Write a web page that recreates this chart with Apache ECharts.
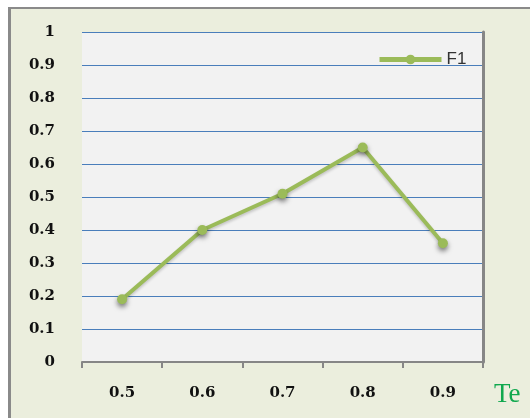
<!DOCTYPE html>
<html>
<head>
<meta charset="utf-8">
<script src="https://cdn.jsdelivr.net/npm/echarts@6/dist/echarts.min.js"></script>
<style>html,body{margin:0;padding:0;background:#fff;}#c{width:530px;height:418px;}</style>
</head>
<body>
<div id="c"></div>
<script>
const categories = ['0.5', '0.6', '0.7', '0.8', '0.9'];
const f1Values = [0.19, 0.40, 0.51, 0.65, 0.36];
const seriesName = 'F1';
const xAxisName = 'Te';

const chart = echarts.init(document.getElementById('c'), null, {renderer: 'canvas'});
chart.setOption({
  backgroundColor: '#ffffff',
  animation: false,
  graphic: [
    {type: 'rect', z: -10, shape: {x: 9, y: 7, width: 530, height: 420}, style: {fill: '#ebeedd'}},
    {type: 'rect', z: -9, shape: {x: 8, y: 7, width: 3, height: 420}, style: {fill: '#8a8a8a'}},
    {type: 'rect', z: -9, shape: {x: 8, y: 7, width: 530, height: 2}, style: {fill: '#8a8a8a'}},
    {type: 'text', left: 494, top: 381, style: {text: xAxisName, font: '27px "Liberation Serif"', fill: '#10a84e'}}
  ],
  grid: {left: 82, top: 32, right: 47, bottom: 56, show: true, backgroundColor: '#f2f2f2', borderWidth: 0},
  legend: {
    left: 372, top: 46,
    itemWidth: 62, itemHeight: 12, itemGap: 5,
    lineStyle: {width: 5},
    textStyle: {fontFamily: 'Liberation Sans', fontSize: 17, color: '#333'},
    data: [seriesName]
  },
  xAxis: {
    type: 'category',
    data: categories,
    boundaryGap: true,
    axisLine: {lineStyle: {color: '#868686', width: 2}},
    axisTick: {show: true, length: 6, lineStyle: {color: '#868686', width: 2}},
    axisLabel: {margin: 24, fontFamily: 'DejaVu Serif', fontWeight: 'bold', fontSize: 15, color: '#111'},
    splitLine: {show: false}
  },
  yAxis: [{
    type: 'value',
    min: 0, max: 1, interval: 0.1,
    axisLine: {show: false},
    axisTick: {show: false},
    axisLabel: {margin: 27, fontFamily: 'DejaVu Serif', fontWeight: 'bold', fontSize: 15, color: '#111'},
    splitLine: {lineStyle: {color: '#4a7ebb', width: 1}}
  }, {
    type: 'value',
    position: 'right',
    min: 0, max: 1, interval: 0.1,
    axisLine: {show: true, lineStyle: {color: '#868686', width: 3}},
    axisTick: {show: false},
    axisLabel: {show: false},
    splitLine: {show: false}
  }],
  series: [{
    name: seriesName,
    type: 'line',
    data: f1Values,
    color: '#9bbb59',
    symbol: 'circle',
    symbolSize: 10,
    lineStyle: {width: 4, color: '#9bbb59', shadowBlur: 3, shadowColor: 'rgba(0,0,0,0.2)', shadowOffsetY: 2},
    itemStyle: {color: '#9bbb59', shadowBlur: 5, shadowColor: 'rgba(0,0,0,0.5)', shadowOffsetY: 3}
  }]
});
</script>
</body>
</html>
